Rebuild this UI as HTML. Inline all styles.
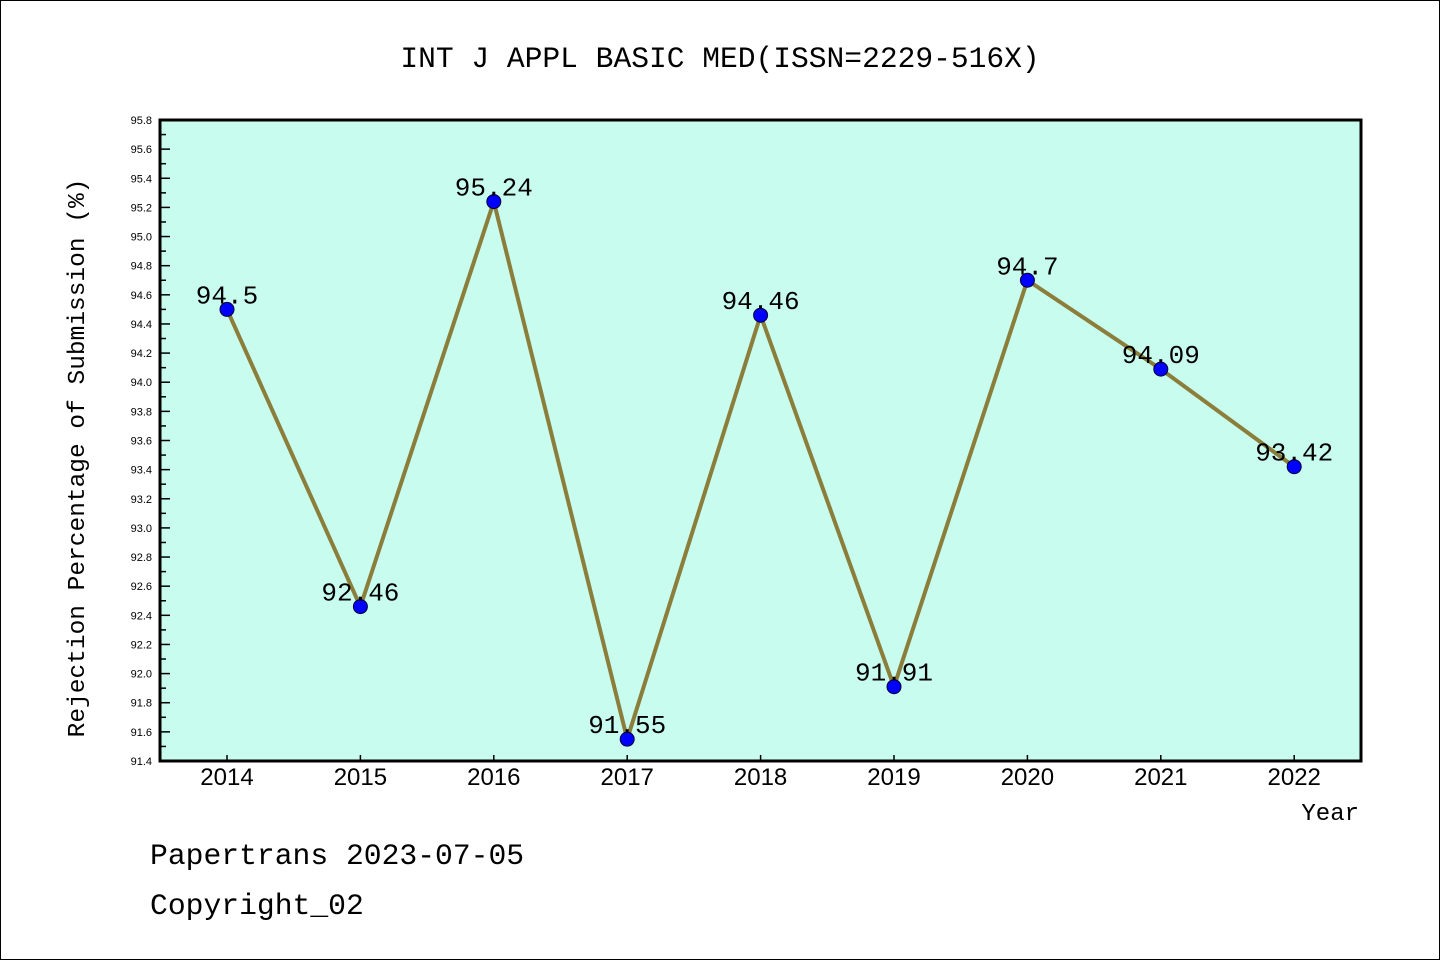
<!DOCTYPE html>
<html><head><meta charset="utf-8"><style>
body{margin:0;background:#fff;}
svg{display:block;}
</style></head><body>
<svg width="1440" height="960" xmlns="http://www.w3.org/2000/svg">
<rect x="0.5" y="0.5" width="1439" height="959" fill="#fff" stroke="#000" stroke-width="1"/>
<text x="720" y="67" text-anchor="middle" font-family="Liberation Mono, monospace" font-size="29.6">INT J APPL BASIC MED(ISSN=2229-516X)</text>
<rect x="160" y="120" width="1201" height="641" fill="#c8fcef"/>
<g id="axes"></g>
<g id="marks"></g>
<rect x="160" y="120" width="1201" height="641" fill="none" stroke="#000" stroke-width="3"/>
<text transform="translate(84,458) rotate(-90)" text-anchor="middle" font-family="Liberation Mono, monospace" font-size="24.5">Rejection Percentage of Submission (%)</text>
<text x="1359" y="820" text-anchor="end" font-family="Liberation Mono, monospace" font-size="24">Year</text>
<text x="150" y="864" font-family="Liberation Mono, monospace" font-size="29.7">Papertrans 2023-07-05</text>
<text x="150" y="914" font-family="Liberation Mono, monospace" font-size="29.7">Copyright_02</text>
</svg>
<script>
const years = ['2014','2015','2016','2017','2018','2019','2020','2021','2022'];
const rates = [94.5, 92.46, 95.24, 91.55, 94.46, 91.91, 94.7, 94.09, 93.42];
const rateLabels = ['94.5','92.46','95.24','91.55','94.46','91.91','94.7','94.09','93.42'];
const yTicks = ['91.4','91.6','91.8','92.0','92.2','92.4','92.6','92.8','93.0','93.2','93.4','93.6','93.8','94.0','94.2','94.4','94.6','94.8','95.0','95.2','95.4','95.6','95.8'];
const SVGNS='http://www.w3.org/2000/svg';
const yMin=91.4,yMax=95.8,plotTop=120,plotBot=761,plotLeft=160;
function yScale(v){return plotBot-(v-yMin)/(yMax-yMin)*(plotBot-plotTop);}
function xScale(i){return 227+i*133.4;}
function mk(t,a,p){const e=document.createElementNS(SVGNS,t);for(const k in a)e.setAttribute(k,a[k]);p.appendChild(e);return e;}
const axG=document.getElementById('axes'),markG=document.getElementById('marks');
yTicks.forEach(function(t,idx){const v=parseFloat(t),yy=yScale(v);
 const l=mk('line',{x1:plotLeft,x2:plotLeft+10,y1:yy,y2:yy,stroke:'#000','stroke-width':1.5},axG);
 
 
 if(idx<yTicks.length-1){
  const m=mk('line',{x1:plotLeft,x2:plotLeft+6,y1:yScale(v+0.1),y2:yScale(v+0.1),stroke:'#000','stroke-width':1.5},axG);
  
  
 }
 const tx=mk('text',{x:plotLeft-8,y:yy+4,'text-anchor':'end','font-family':'Liberation Sans, sans-serif','font-size':11},axG);
 tx.textContent=t;
 
 
});
years.forEach(function(yr,i){
 const l=mk('line',{x1:xScale(i),x2:xScale(i),y1:plotBot,y2:plotBot-6,stroke:'#000','stroke-width':1.5},axG);
 
 
 const tx=mk('text',{x:xScale(i),y:plotBot+24,'text-anchor':'middle','font-family':'Liberation Sans, sans-serif','font-size':24},axG);
 tx.textContent=yr;
 
 
});
const pl=mk('polyline',{points:rates.map(function(v,i){return xScale(i)+','+yScale(v);}).join(' '),fill:'none',stroke:'#8b7d3a','stroke-width':4},markG);


rates.forEach(function(v,i){
 const c=mk('circle',{cx:xScale(i),cy:yScale(v),r:7,fill:'#0000ff',stroke:'#000033','stroke-width':1},markG);
 
 
 const t=mk('text',{x:xScale(i),y:yScale(v)-6,'text-anchor':'middle','font-family':'Liberation Mono, monospace','font-size':26},markG);
 t.textContent=rateLabels[i];
 
 
});
</script>
</body></html>
